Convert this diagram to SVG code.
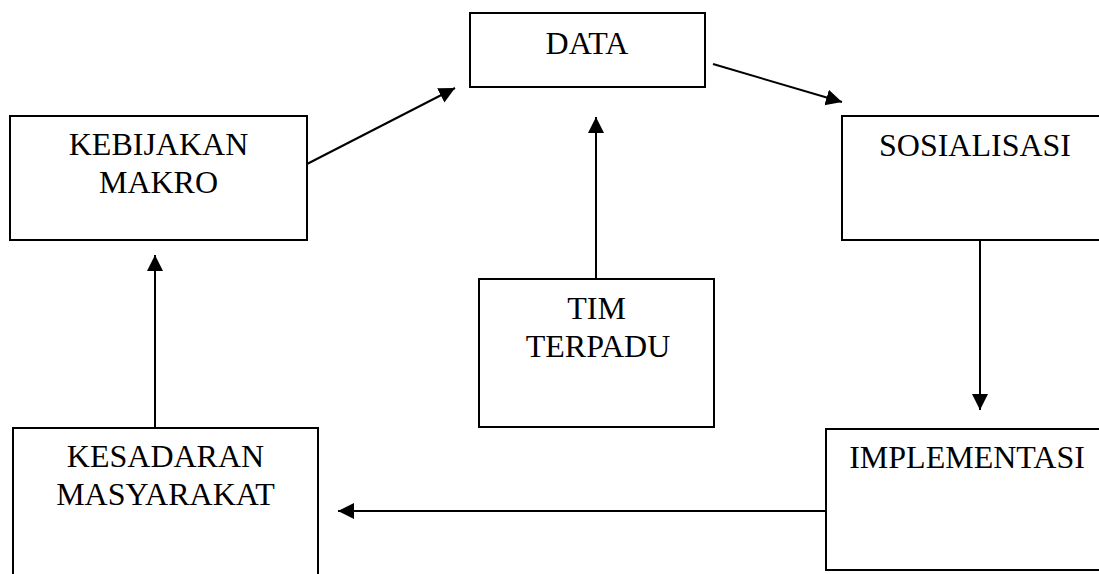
<svg xmlns="http://www.w3.org/2000/svg" width="1099" height="574" viewBox="0 0 1099 574">
  <style>
    .box { fill: #ffffff; stroke: #000000; stroke-width: 2; }
    .lbl { font-family: "Liberation Serif", "Times New Roman", serif; font-size: 32px; fill: #000000; text-anchor: middle; }
    .conn { stroke: #000000; stroke-width: 2; fill: none; marker-end: url(#arrow); }
  </style>
  <defs>
    <marker id="arrow" markerUnits="userSpaceOnUse" markerWidth="17" markerHeight="17" refX="16" refY="8" orient="auto">
      <path d="M0,0 L16,8 L0,16 Z" fill="#000000"/>
    </marker>
  </defs>
  <rect width="1099" height="574" fill="#ffffff"/>

  <g id="node-data">
    <rect class="box" x="470" y="13" width="235" height="74"/>
    <text class="lbl" x="587" y="54">DATA</text>
  </g>
  <g id="node-kebijakan">
    <rect class="box" x="10" y="116" width="297" height="124"/>
    <text class="lbl" x="158.5" y="155">KEBIJAKAN</text>
    <text class="lbl" x="158.5" y="193">MAKRO</text>
  </g>
  <g id="node-sosialisasi">
    <rect class="box" x="842" y="116" width="270" height="124"/>
    <text class="lbl" x="975" y="156">SOSIALISASI</text>
  </g>
  <g id="node-tim">
    <rect class="box" x="479" y="279" width="235" height="148"/>
    <text class="lbl" x="596.5" y="319">TIM</text>
    <text class="lbl" x="598" y="357">TERPADU</text>
  </g>
  <g id="node-kesadaran">
    <rect class="box" x="13" y="428" width="305" height="160"/>
    <text class="lbl" x="165.5" y="467">KESADARAN</text>
    <text class="lbl" x="165.5" y="505">MASYARAKAT</text>
  </g>
  <g id="node-implementasi">
    <rect class="box" x="826" y="429" width="290" height="141"/>
    <text class="lbl" x="967" y="468">IMPLEMENTASI</text>
  </g>

  <g id="connectors">
    <line class="conn" x1="307" y1="164" x2="455" y2="88"/>
    <line class="conn" x1="713" y1="64" x2="842" y2="102"/>
    <line class="conn" x1="596" y1="279" x2="596" y2="117"/>
    <line class="conn" x1="980" y1="240" x2="980" y2="410"/>
    <line class="conn" x1="826" y1="511" x2="338" y2="511"/>
    <line class="conn" x1="155" y1="428" x2="155" y2="255"/>
  </g>
</svg>
